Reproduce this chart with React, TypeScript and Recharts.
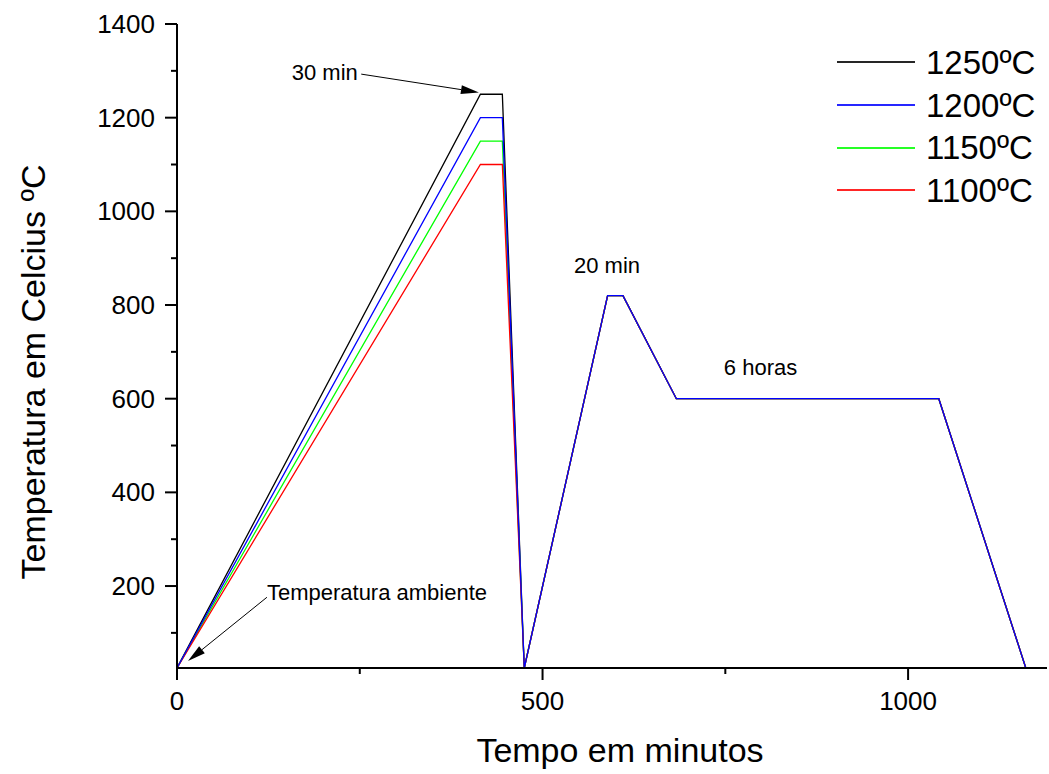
import { LineChart, Line, XAxis, YAxis, Legend, ReferenceLine, ReferenceDot } from 'recharts';

// tempo (min) dos pontos do ciclo térmico
const TIME = [0, 415, 445, 475, 589, 610, 683, 1042, 1161];

const T1250 = [25, 1250, 1250, 25, 820, 820, 600, 600, 25];
const T1200 = [25, 1200, 1200, 25, 820, 820, 600, 600, 25];
const T1150 = [25, 1150, 1150, 25, 820, 820, 600, 600, 25];
const T1100 = [25, 1100, 1100, 25, 820, 820, 600, 600, 25];

const SERIES_NAMES = ['1250ºC', '1200ºC', '1150ºC', '1100ºC'];
const SERIES_COLORS = ['#000000', '#0000ff', '#00ff00', '#ff0000'];
const SERIES_VALUES = [T1250, T1200, T1150, T1100];
// ordem de desenho: azul por cima
const DRAW_ORDER = [0, 2, 3, 1];

const X_TICKS = [0, 250, 500, 750, 1000];
const X_LABELED = [0, 500, 1000];
const Y_TICKS = [100, 200, 300, 400, 500, 600, 700, 800, 900, 1000, 1100, 1200, 1300, 1400];
const Y_LABELED = [200, 400, 600, 800, 1000, 1200, 1400];

// anotações (coordenadas em dados)
const NOTE_TEXTS = ['30 min', 'Temperatura ambiente', '20 min', '6 horas'];
const NOTE_X = [157, 123, 543, 748];
const NOTE_Y = [1297, 187, 885, 666];
const ARROW_FROM = [{ x: 252, y: 1293 }, { x: 123, y: 176 }];
const ARROW_TO = [{ x: 413, y: 1254 }, { x: 15, y: 40 }];

const FONT = '"Liberation Sans", Arial, sans-serif';
const TICK_MAJOR = 12;
const TICK_MINOR = 6;
const TICK_MARGIN = 8;

const seriesData = SERIES_VALUES.map((vals) => vals.map((v, i) => ({ t: TIME[i], v })));

function XTick(props: any) {
  const { x, y, payload } = props;
  const y0 = y - TICK_MAJOR - TICK_MARGIN;
  const major = X_LABELED.includes(payload.value);
  return (
    <g>
      <line x1={x} x2={x} y1={y0} y2={y0 + (major ? TICK_MAJOR : TICK_MINOR)} stroke="#000" strokeWidth={2} />
      {major && (
        <text x={x} y={y0 + 42} textAnchor="middle" fontSize={26} fontFamily={FONT} fill="#000">
          {payload.value}
        </text>
      )}
    </g>
  );
}

function YTick(props: any) {
  const { x, y, payload } = props;
  const x0 = x + TICK_MAJOR + TICK_MARGIN;
  const major = Y_LABELED.includes(payload.value);
  return (
    <g>
      <line x1={x0 - (major ? TICK_MAJOR : TICK_MINOR)} x2={x0} y1={y} y2={y} stroke="#000" strokeWidth={2} />
      {major && (
        <text x={x0 - 22} y={y} dy="0.35em" textAnchor="end" fontSize={26} fontFamily={FONT} fill="#000">
          {payload.value}
        </text>
      )}
    </g>
  );
}

function Arrow(props: any) {
  const { x1, y1, x2, y2 } = props;
  const ang = Math.atan2(y2 - y1, x2 - x1);
  const len = 18;
  const hw = 4.5;
  const bx = x2 - len * Math.cos(ang);
  const by = y2 - len * Math.sin(ang);
  const px = -Math.sin(ang) * hw;
  const py = Math.cos(ang) * hw;
  return (
    <g>
      <line x1={x1} y1={y1} x2={bx} y2={by} stroke="#000" strokeWidth={1} />
      <polygon points={`${x2},${y2} ${bx + px},${by + py} ${bx - px},${by - py}`} fill="#000" />
    </g>
  );
}

function LegendBox() {
  return (
    <div style={{ fontFamily: FONT }}>
      {SERIES_NAMES.map((name, i) => (
        <div key={name} style={{ display: 'flex', alignItems: 'center', height: 42.7 }}>
          <div style={{ width: 78, height: 2, backgroundColor: SERIES_COLORS[i], opacity: 0.85 }} />
          <span style={{ marginLeft: 11, fontSize: 33, color: '#000', lineHeight: 1 }}>{name}</span>
        </div>
      ))}
    </div>
  );
}

export default function App() {
  return (
    <div style={{ position: 'absolute', left: 0, top: 0, width: 1049, height: 774, background: '#fff' }}>
      <LineChart width={1049} height={774} margin={{ top: 24, right: 2, bottom: 0, left: 0 }}>
        <XAxis
          type="number"
          dataKey="t"
          domain={[0, 1190]}
          ticks={X_TICKS}
          interval={0}
          allowDataOverflow
          height={106}
          tickSize={TICK_MAJOR}
          tickMargin={TICK_MARGIN}
          tickLine={false}
          axisLine={{ stroke: '#000', strokeWidth: 2 }}
          tick={<XTick />}
        />
        <YAxis
          type="number"
          domain={[25, 1400]}
          ticks={Y_TICKS}
          interval={0}
          allowDataOverflow
          width={177}
          tickSize={TICK_MAJOR}
          tickMargin={TICK_MARGIN}
          tickLine={false}
          axisLine={{ stroke: '#000', strokeWidth: 2 }}
          tick={<YTick />}
        />
        <Legend
          layout="vertical"
          align="center"
          verticalAlign="middle"
          wrapperStyle={{ top: 41, left: 837, width: 212, height: 175 }}
          content={() => <LegendBox />}
        />
        {DRAW_ORDER.map((i) => (
          <Line
            key={SERIES_NAMES[i]}
            data={seriesData[i]}
            dataKey="v"
            name={SERIES_NAMES[i]}
            type="linear"
            stroke={SERIES_COLORS[i]}
            strokeWidth={1.3}
            dot={false}
            activeDot={false}
            isAnimationActive={false}
          />
        ))}
        {ARROW_FROM.map((from, i) => (
          <ReferenceLine key={`arrow-${i}`} segment={[from, ARROW_TO[i]]} shape={(p: any) => <Arrow {...p} />} />
        ))}
        {NOTE_TEXTS.map((txt, i) => (
          <ReferenceDot
            key={txt}
            x={NOTE_X[i]}
            y={NOTE_Y[i]}
            r={0}
            shape={(p: any) => (
              <text x={p.cx} y={p.cy} dy="0.35em" fontSize={22} fontFamily={FONT} fill="#000">
                {txt}
              </text>
            )}
          />
        ))}
        <text x={33} y={372} transform="rotate(-90 33 372)" textAnchor="middle" dominantBaseline="central" fontSize={34} fontFamily={FONT} fill="#000">
          Temperatura em Celcius ºC
        </text>
        <text x={620} y={762} textAnchor="middle" fontSize={34} fontFamily={FONT} fill="#000">
          Tempo em minutos
        </text>
      </LineChart>
    </div>
  );
}
